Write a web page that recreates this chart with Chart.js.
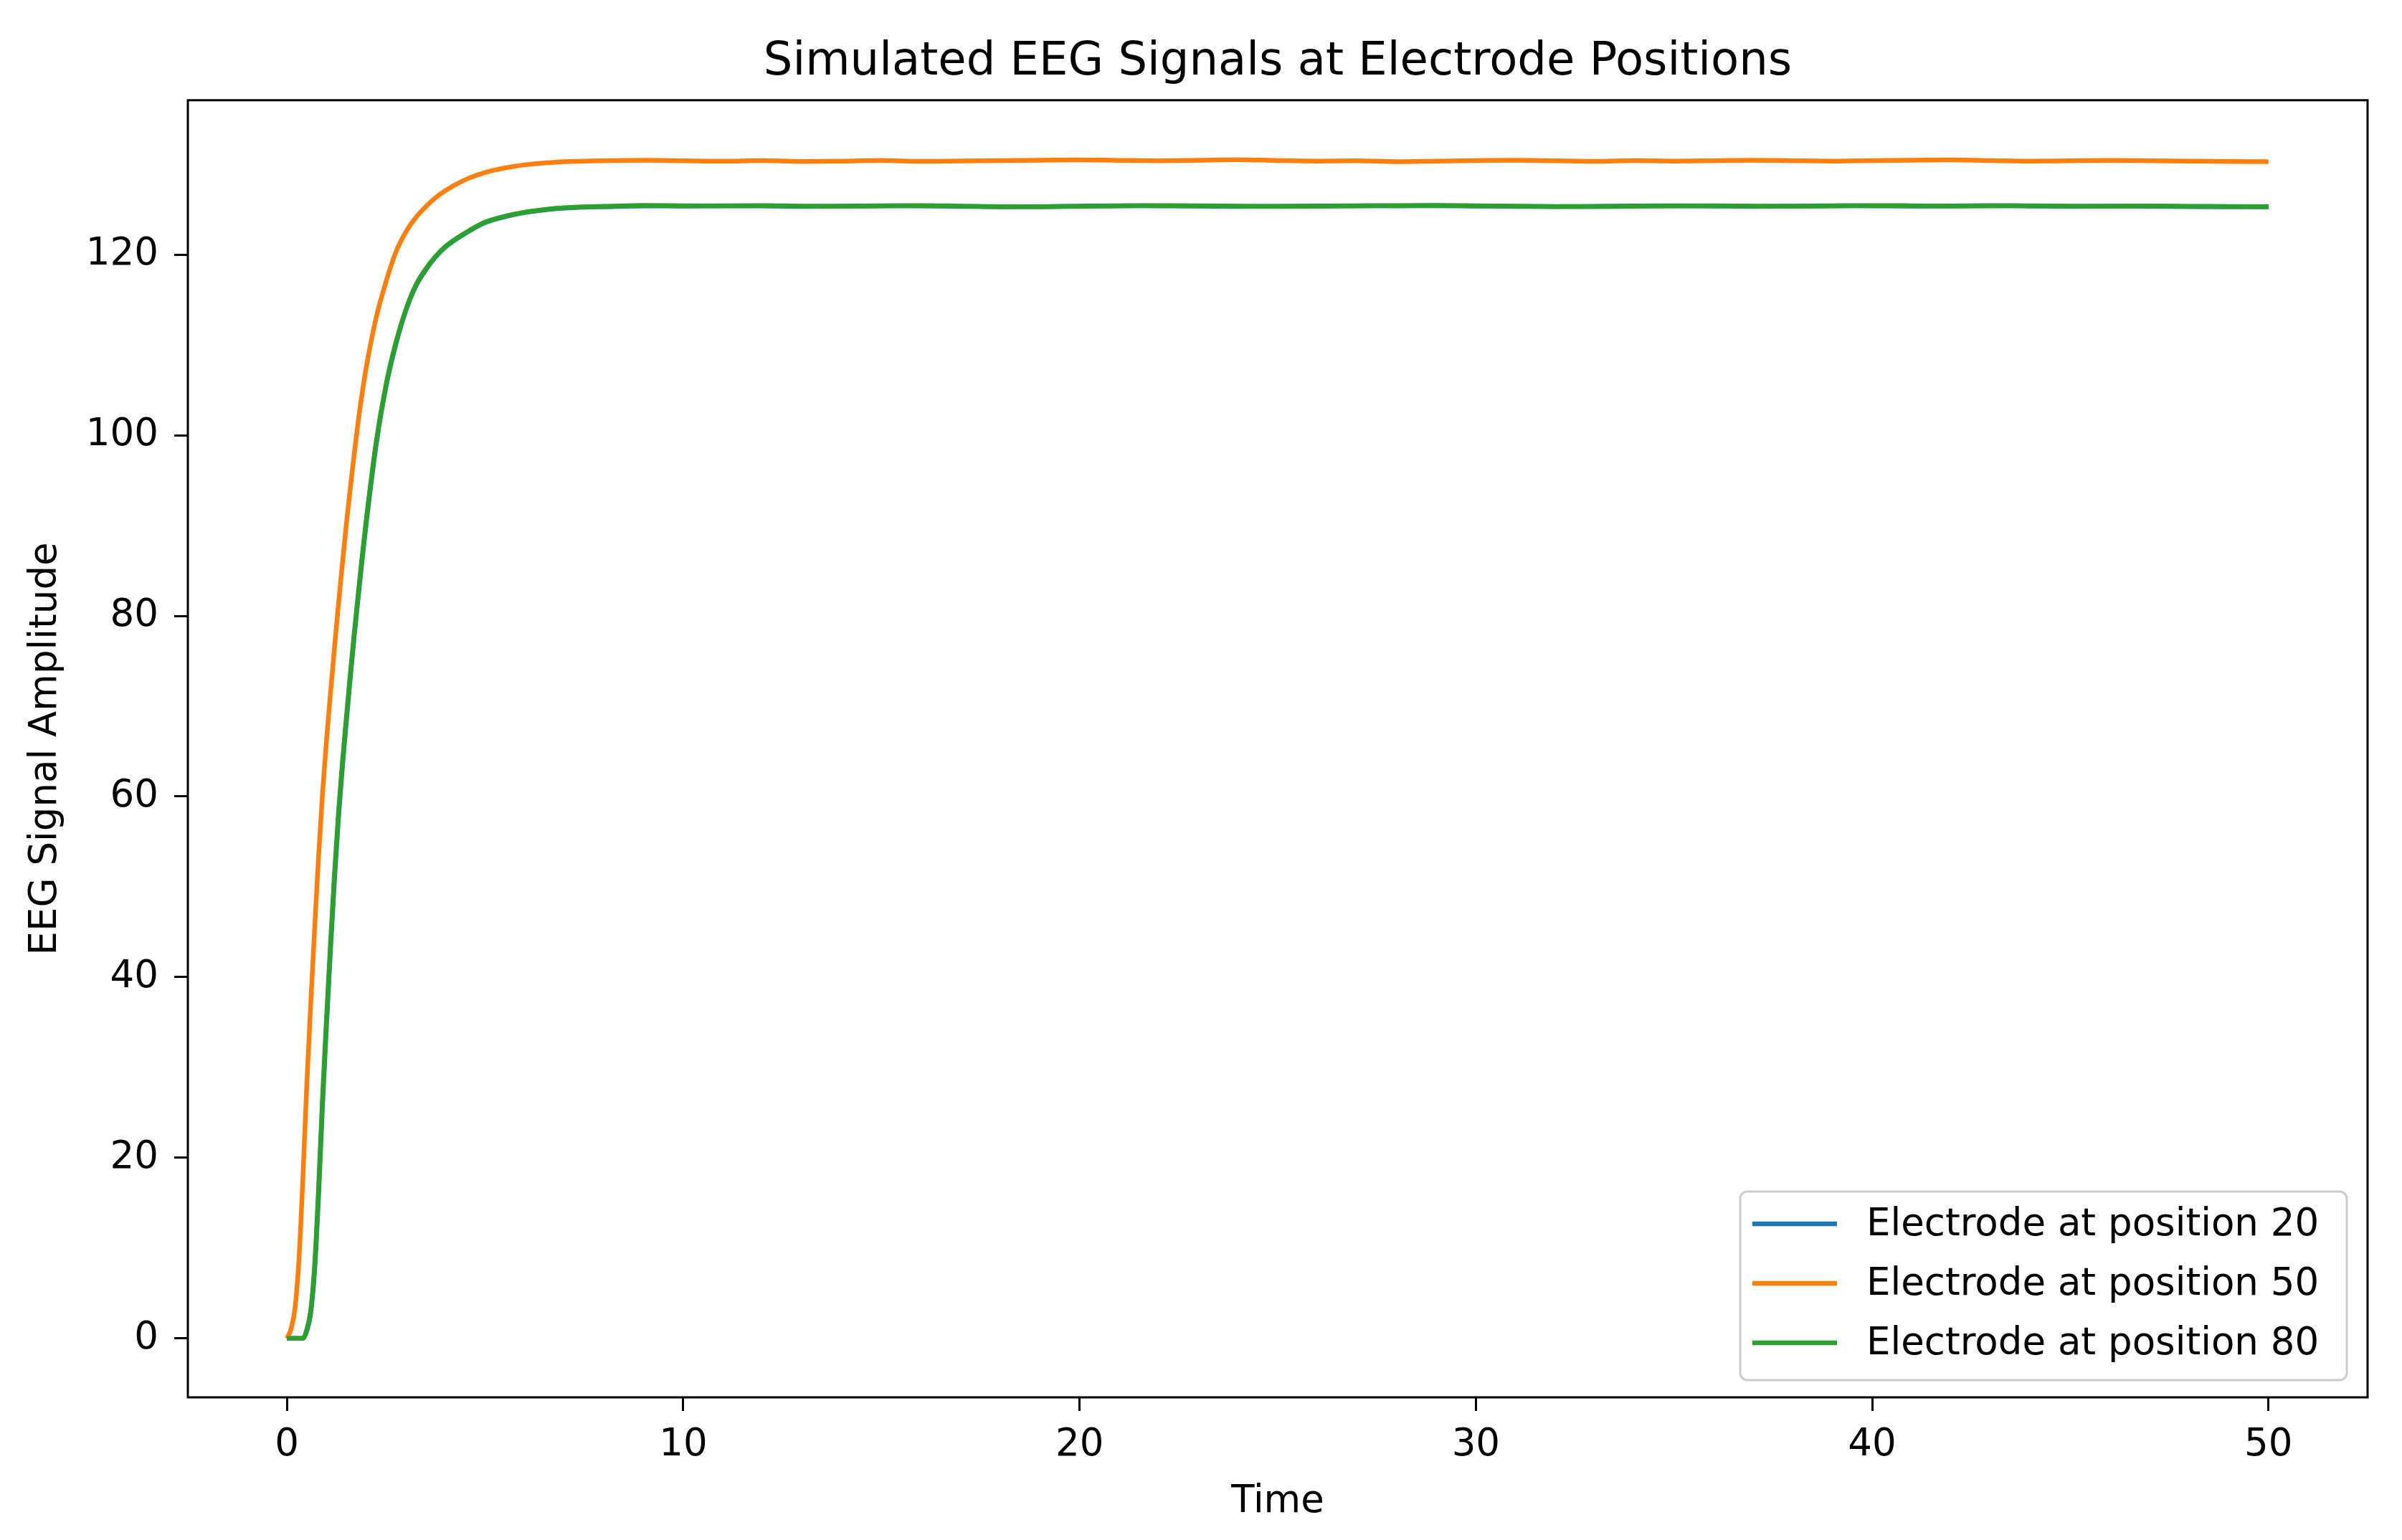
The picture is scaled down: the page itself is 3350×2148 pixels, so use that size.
<!DOCTYPE html>
<html>
<head>
<meta charset="utf-8">
<script src="https://cdn.jsdelivr.net/npm/chart.js@4.4.1/dist/chart.umd.min.js"></script>
<style>
  html, body { margin: 0; padding: 0; background: #fff; }
  #wrap { width: 3350px; height: 2148px; position: relative; }
</style>
</head>
<body>
<div id="wrap"><canvas id="eegChart"></canvas></div>
<script>
// Time axis (shared by all three electrodes)
const time = [
    0, 0.1, 0.2, 0.3, 0.4, 0.5, 0.6, 0.7, 0.8, 0.9, 1.0,
    1.1, 1.2, 1.3, 1.4, 1.5, 1.6, 1.7, 1.8, 1.9, 2.0,
    2.25, 2.5, 2.75, 3.0, 3.25, 3.5, 3.75,
    4.0, 4.5, 5.0, 5.5, 6.0, 6.5, 7.0, 7.5, 8.0,
    9, 10, 11, 12, 13, 14, 15, 16, 17, 18,
    19, 20, 21, 22, 23, 24, 25, 26, 27, 28,
    29, 30, 31, 32, 33, 34, 35, 36, 37, 38,
    39, 40, 41, 42, 43, 44, 45, 46, 47, 48,
    49, 50
];

// Electrode at position 20
const electrode20 = [
    0, 0, 0, 0, 0, 0.8, 2.8, 7.6, 15.9, 26.0, 34.8,
    43.0, 50.8, 57.6, 63.3, 68.3, 73.2, 77.8, 82.1, 86.3, 90.2,
    98.9, 105.4, 110.1, 113.8, 116.5, 118.3, 119.75,
    120.85, 122.35, 123.55, 124.2, 124.65, 124.95, 125.15, 125.25, 125.3,
    125.40, 125.38, 125.42, 125.40, 125.34, 125.38, 125.42, 125.40, 125.34, 125.30,
    125.32, 125.38, 125.42, 125.40, 125.38, 125.34, 125.36, 125.40, 125.42, 125.40,
    125.42, 125.38, 125.34, 125.32, 125.36, 125.40, 125.42, 125.38, 125.34, 125.38,
    125.42, 125.40, 125.38, 125.40, 125.44, 125.38, 125.34, 125.38, 125.36, 125.32,
    125.30, 125.30
];

// Electrode at position 50
const electrode50 = [
    0, 1.0, 3.2, 8.5, 17.5, 28.0, 37.0, 45.5, 53.5, 60.5, 66.3,
    71.5, 76.5, 81.3, 85.8, 90.2, 94.2, 98.0, 101.6, 104.7, 107.5,
    113.0, 117.0, 120.3, 122.5, 124.1, 125.3, 126.3,
    127.1, 128.3, 129.1, 129.6, 129.95, 130.15, 130.3, 130.35, 130.4,
    130.45, 130.40, 130.35, 130.42, 130.32, 130.36, 130.44, 130.33, 130.38, 130.42,
    130.46, 130.50, 130.44, 130.40, 130.46, 130.52, 130.42, 130.36, 130.40, 130.30,
    130.36, 130.42, 130.46, 130.40, 130.34, 130.42, 130.36, 130.40, 130.46, 130.40,
    130.36, 130.42, 130.46, 130.50, 130.42, 130.36, 130.40, 130.44, 130.40, 130.36,
    130.32, 130.30
];

// Electrode at position 80
const electrode80 = [
    0, 0, 0, 0, 0, 0.96, 3.1, 8.2, 16.8, 26.9, 35.6,
    43.8, 51.5, 58.2, 63.8, 68.8, 73.6, 78.2, 82.5, 86.7, 90.6,
    99.2, 105.6, 110.3, 113.9, 116.6, 118.4, 119.8,
    120.9, 122.4, 123.6, 124.25, 124.7, 125.0, 125.2, 125.3, 125.35,
    125.45, 125.42, 125.40, 125.44, 125.38, 125.36, 125.40, 125.44, 125.38, 125.32,
    125.30, 125.34, 125.40, 125.44, 125.42, 125.38, 125.34, 125.36, 125.40, 125.44,
    125.46, 125.42, 125.38, 125.34, 125.32, 125.36, 125.40, 125.42, 125.38, 125.36,
    125.40, 125.44, 125.42, 125.38, 125.40, 125.42, 125.38, 125.36, 125.40, 125.36,
    125.34, 125.32
];

const seriesLabels = ['Electrode at position 20', 'Electrode at position 50', 'Electrode at position 80'];
const seriesColors = ['#1f77b4', '#ff7f0e', '#2ca02c'];
const xTicks = [0, 10, 20, 30, 40, 50];
const yTicks = [0, 20, 40, 60, 80, 100, 120];

const FONT = "'DejaVu Sans', sans-serif";

function toPoints(values) {
    return time.map((t, i) => ({ x: t, y: values[i] }));
}

// full box around the axes, like matplotlib spines
const framePlugin = {
    id: 'frame',
    afterDatasetsDraw(chart) {
        const { ctx, chartArea: a } = chart;
        ctx.save();
        ctx.strokeStyle = '#000';
        ctx.lineWidth = 3;
        ctx.strokeRect(a.left, a.top, a.right - a.left, a.bottom - a.top);
        ctx.restore();
    }
};

// legend box in the lower right corner of the plot
const cornerLegend = {
    id: 'cornerLegend',
    afterDraw(chart) {
        const { ctx, chartArea: a } = chart;
        const w = 846, h = 263;
        const x0 = a.right - 29 - w;
        const y0 = a.bottom - 24 - h;
        ctx.save();
        ctx.beginPath();
        ctx.roundRect(x0, y0, w, h, 10);
        ctx.fillStyle = 'rgba(255,255,255,0.8)';
        ctx.fill();
        ctx.strokeStyle = '#cccccc';
        ctx.lineWidth = 3;
        ctx.stroke();

        ctx.font = '53px ' + FONT;
        ctx.textBaseline = 'middle';
        ctx.fillStyle = '#000';
        chart.data.datasets.forEach((ds, i) => {
            const cy = y0 + 45 + i * 83;
            ctx.beginPath();
            ctx.moveTo(x0 + 17, cy);
            ctx.lineTo(x0 + 135, cy);
            ctx.strokeStyle = ds.borderColor;
            ctx.lineWidth = 6.5;
            ctx.stroke();
            ctx.fillText(ds.label, x0 + 176, cy + 2);
        });
        ctx.restore();
    }
};

const datasets = [electrode20, electrode50, electrode80].map((vals, i) => ({
    label: seriesLabels[i],
    data: toPoints(vals),
    borderColor: seriesColors[i],
    backgroundColor: seriesColors[i],
    borderWidth: 6.5,
    pointRadius: 0,
    fill: false,
    cubicInterpolationMode: 'monotone',
    order: 3 - i   // later series drawn on top
}));

new Chart(document.getElementById('eegChart'), {
    type: 'line',
    data: { datasets: datasets },
    options: {
        responsive: true,
        maintainAspectRatio: false,
        animation: false,
        devicePixelRatio: 1,
        layout: { padding: { left: 0, right: 48, top: 0, bottom: 0 } },
        plugins: {
            legend: { display: false },
            tooltip: { enabled: false },
            title: {
                display: true,
                text: 'Simulated EEG Signals at Electrode Positions',
                color: '#000',
                fullSize: false,
                font: { family: FONT, size: 64, weight: 'normal' },
                padding: { top: 49, bottom: 14 }
            }
        },
        scales: {
            x: {
                type: 'linear',
                min: -2.5,
                max: 52.5,
                afterBuildTicks: (scale) => { scale.ticks = xTicks.map(v => ({ value: v })); },
                afterFit: (scale) => { scale.height = 199; },
                ticks: {
                    color: '#000',
                    font: { family: FONT, size: 53 },
                    padding: 16,
                    maxRotation: 0,
                    callback: (v) => String(v)
                },
                grid: {
                    display: true,
                    drawOnChartArea: false,
                    drawTicks: true,
                    tickLength: 19,
                    tickWidth: 3,
                    tickColor: '#000'
                },
                border: { display: false },
                title: {
                    display: true,
                    text: 'Time',
                    color: '#000',
                    font: { family: FONT, size: 53 },
                    padding: { top: 0, bottom: 21 }
                }
            },
            y: {
                type: 'linear',
                min: -6.53,
                max: 137.1,
                afterBuildTicks: (scale) => { scale.ticks = yTicks.map(v => ({ value: v })); },
                afterFit: (scale) => { scale.width = 262; },
                ticks: {
                    color: '#000',
                    font: { family: FONT, size: 53 },
                    padding: 22,
                    callback: (v) => String(v)
                },
                grid: {
                    display: true,
                    drawOnChartArea: false,
                    drawTicks: true,
                    tickLength: 19,
                    tickWidth: 3,
                    tickColor: '#000'
                },
                border: { display: false },
                title: {
                    display: true,
                    text: 'EEG Signal Amplitude',
                    color: '#000',
                    font: { family: FONT, size: 53 },
                    padding: { top: 32, bottom: 0 }
                }
            }
        }
    },
    plugins: [framePlugin, cornerLegend]
});
</script>
</body>
</html>
